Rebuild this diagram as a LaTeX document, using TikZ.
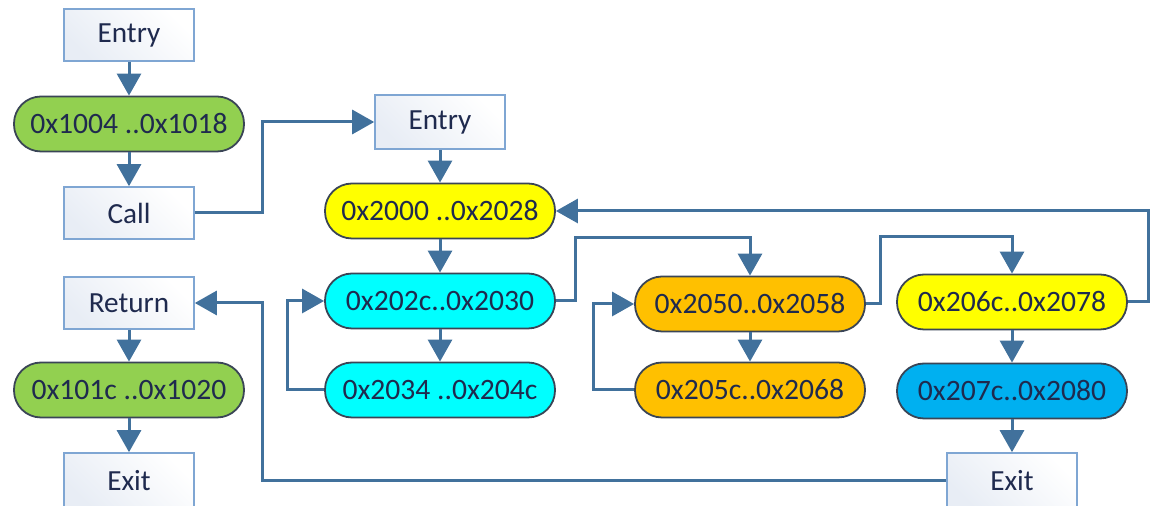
\documentclass[tikz,border=0pt]{standalone}
\usepackage{fontspec}
\setmainfont{Carlito}
\usetikzlibrary{arrows.meta}
\definecolor{linec}{HTML}{41719C}
\definecolor{boxline}{HTML}{7FA6D3}
\definecolor{boxshade}{HTML}{E8EDF5}
\definecolor{pillline}{HTML}{3A4556}
\definecolor{txt}{HTML}{1F2A4E}
\definecolor{cgreen}{HTML}{92D050}
\definecolor{cyellow}{HTML}{FFFF00}
\definecolor{ccyan}{HTML}{00FFFF}
\definecolor{corange}{HTML}{FFC000}
\definecolor{cblue}{HTML}{00B0F0}
\tikzset{
  blk/.style={rectangle, draw=boxline, line width=0.8pt, left color=boxshade, right color=white, shading angle=135,
    minimum width=65pt, minimum height=26pt, inner sep=0pt, font=\fontsize{14.6}{16}\selectfont, text=txt},
  pill/.style={rectangle, rounded corners=13.5pt, draw=pillline, line width=0.9pt, fill=#1,
    minimum width=115pt, minimum height=27.5pt, inner sep=0pt, font=\fontsize{14.8}{16}\selectfont, text=txt},
  conn/.style={draw=linec, line width=1.5pt, -{Triangle[width=12pt,length=11pt]}},
}
\begin{document}
\begin{tikzpicture}[x=0.5pt,y=-0.5pt]
\useasboundingbox (0,0) rectangle (1151,506);
\clip (0,0) rectangle (1151,506);
% left column
\node[blk] (en1) at (129,35) {Entry};
\node[pill=cgreen] (p1004) at (129,124) {0x1004 ..0x1018};
\node[blk] (call) at (129,213) {Call};
\node[blk] (ret) at (129,303) {Return};
\node[pill=cgreen] (p101c) at (129,390) {0x101c ..0x1020};
\node[blk, minimum height=28pt] (ex1) at (129,481) {Exit};
% second column
\node[blk, minimum height=27pt] (en2) at (440,122) {Entry};
\node[pill=cyellow] (p2000) at (440,211) {0x2000 ..0x2028};
\node[pill=ccyan] (p202c) at (440,301) {0x202c..0x2030};
\node[pill=ccyan] (p2034) at (440,390) {0x2034 ..0x204c};
% third column
\node[pill=corange] (p2050) at (750,304) {0x2050..0x2058};
\node[pill=corange] (p205c) at (750,390) {0x205c..0x2068};
% fourth column
\node[pill=cyellow] (p206c) at (1012,302) {0x206c..0x2078};
\node[pill=cblue] (p207c) at (1012,391) {0x207c..0x2080};
\node[blk, minimum height=28pt] (ex2) at (1012,481) {Exit};
% bend coordinates
\coordinate (b1) at (262,0);
\coordinate (b2) at (287,0);
\coordinate (r1) at (575,238);
\coordinate (b4) at (593,0);
\coordinate (r2) at (880,237);
\coordinate (b6) at (1148,0);
% vertical arrows
\draw[conn] (en1) -- (p1004);
\draw[conn] (p1004) -- (call);
\draw[conn] (ret) -- (p101c);
\draw[conn] (p101c) -- (ex1);
\draw[conn] (en2) -- (p2000);
\draw[conn] (p2000) -- (p202c);
\draw[conn] (p202c) -- (p2034);
\draw[conn] (p2050) -- (p205c);
\draw[conn] (p206c) -- (p207c);
\draw[conn] (p207c) -- (ex2);
% routed arrows
\draw[conn] (call.east) -- (call.east -| b1) |- (en2.west);
\draw[conn] (p2034.west) -- (p2034.west -| b2) |- (p202c.west);
\draw[conn] (p202c.east) -| (r1) -| (p2050.north);
\draw[conn] (p205c.west) -- (p205c.west -| b4) |- (p2050.west);
\draw[conn] (p2050.east) -| (r2) -| (p206c.north);
\draw[conn] (p206c.east) -- (p206c.east -| b6) |- (p2000.east);
\draw[conn] (ex2.west) -| (b1 |- ret.east) -- (ret.east);
\end{tikzpicture}
\end{document}
